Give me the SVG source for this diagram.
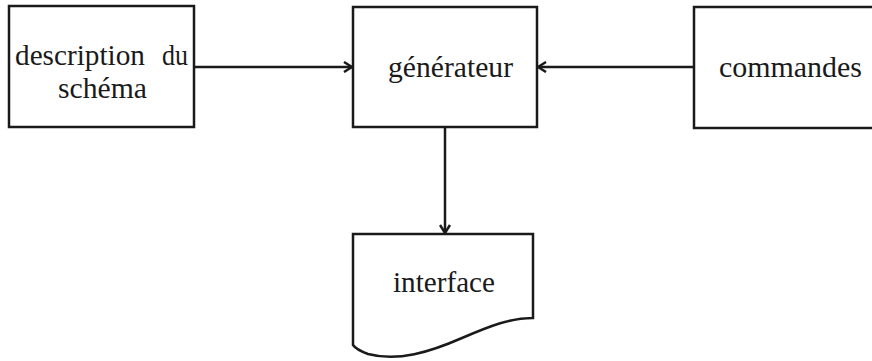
<svg xmlns="http://www.w3.org/2000/svg" width="872" height="361" viewBox="0 0 872 361">
<defs>
<style>
.box{fill:#fff;stroke:#1a1a1a;stroke-width:2.5}
.lbl{font-family:"Liberation Serif","Times New Roman",serif;font-size:28.5px;fill:#1a1a1a}
.edge{fill:none;stroke:#1a1a1a;stroke-width:2.5}
</style>
<marker id="ah" viewBox="0 0 12 12" markerWidth="12" markerHeight="12" refX="11" refY="6" orient="auto" markerUnits="userSpaceOnUse">
<path d="M3,1 L11,6 L3,11" fill="none" stroke="#1a1a1a" stroke-width="2.5"/>
</marker>
</defs>
<rect width="872" height="361" fill="#fff"/>
<g id="description">
<rect class="box" x="9" y="6" width="185" height="121"/>
<text class="lbl"><tspan x="15" y="65" textLength="130" lengthAdjust="spacingAndGlyphs">description</tspan><tspan x="162" y="65" textLength="26" lengthAdjust="spacingAndGlyphs">du</tspan></text>
<text class="lbl" x="58" y="98" textLength="89" lengthAdjust="spacingAndGlyphs">schéma</text>
</g>
<g id="generateur">
<rect class="box" x="353" y="7" width="184" height="120"/>
<text class="lbl" x="388" y="77" textLength="125" lengthAdjust="spacingAndGlyphs">générateur</text>
</g>
<g id="commandes">
<rect class="box" x="694" y="7" width="190" height="121"/>
<text class="lbl" x="719" y="77" textLength="143" lengthAdjust="spacingAndGlyphs">commandes</text>
</g>
<g id="interface">
<path class="box" d="M353,234 H533 V318 C510,318 490,326 462,338 C430,352 398,362 368,354 C360,351 355,348 353,345 Z"/>
<text class="lbl" x="393" y="292" textLength="102" lengthAdjust="spacingAndGlyphs">interface</text>
</g>
<g id="connectors">
<line class="edge" x1="195" y1="67" x2="352" y2="67" marker-end="url(#ah)"/>
<line class="edge" x1="694" y1="67" x2="538" y2="67" marker-end="url(#ah)"/>
<line class="edge" x1="445" y1="127" x2="445" y2="233" marker-end="url(#ah)"/>
</g>
</svg>
